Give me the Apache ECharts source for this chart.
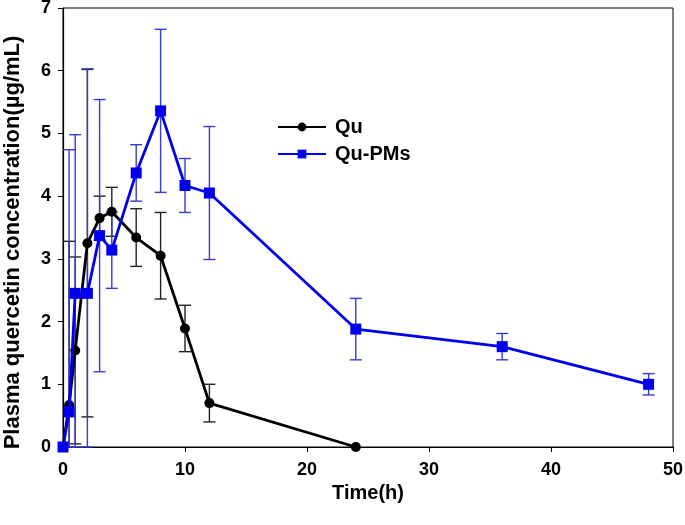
<!DOCTYPE html>
<html>
<head>
<meta charset="utf-8">
<script src="https://cdn.jsdelivr.net/npm/echarts@6/dist/echarts.min.js"></script>
<style>html,body{margin:0;padding:0;background:#fff}#c{width:685px;height:525px}</style>
</head>
<body>
<div id="c"></div>
<script>
var quTime = [0, 0.5, 1, 2, 3, 4, 6, 8, 10, 12, 24];
var quMean = [0, 0.67, 1.54, 3.25, 3.65, 3.75, 3.34, 3.05, 1.89, 0.70, 0];
var quSd   = [0, 2.61, 1.49, 2.77, 0.35, 0.39, 0.46, 0.69, 0.37, 0.30, 0];

var pmTime = [0, 0.5, 1, 2, 3, 4, 6, 8, 10, 12, 24, 36, 48];
var pmMean = [0, 0.56, 2.45, 2.45, 3.37, 3.14, 4.37, 5.36, 4.17, 4.05, 1.88, 1.60, 1.00];
var pmSd   = [0, 4.18, 2.53, 3.58, 2.17, 0.61, 0.45, 1.30, 0.43, 1.06, 0.49, 0.21, 0.17];

var xTicks = [0, 10, 20, 30, 40, 50];
var yTicks = [0, 1, 2, 3, 4, 5, 6, 7];

function pts(t, m) { return t.map(function (v, i) { return [v, m[i]]; }); }
function errs(t, m, s) {
  return t.map(function (v, i) { return [v, Math.max(0, m[i] - s[i]), m[i] + s[i], s[i]]; })
          .filter(function (d) { return d[3] > 0; });
}
function errSeries(data, color) {
  return {
    type: 'custom', silent: true, z: 3,
    data: data,
    renderItem: function (params, api) {
      var x = api.value(0);
      var lo = api.coord([x, api.value(1)]);
      var hi = api.coord([x, api.value(2)]);
      var w = 6;
      var st = { stroke: color, lineWidth: 1.4 };
      return {
        type: 'group',
        children: [
          { type: 'line', shape: { x1: lo[0], y1: lo[1], x2: hi[0], y2: hi[1] }, style: st },
          { type: 'line', shape: { x1: hi[0] - w, y1: hi[1], x2: hi[0] + w, y2: hi[1] }, style: st },
          { type: 'line', shape: { x1: lo[0] - w, y1: lo[1], x2: lo[0] + w, y2: lo[1] }, style: st }
        ]
      };
    }
  };
}

var chart = echarts.init(document.getElementById('c'));
var font = '"Liberation Sans", Arial, sans-serif';
chart.setOption({
  animation: false,
  backgroundColor: '#fff',
  grid: { left: 63, right: 12, top: 8, bottom: 78, show: true, borderColor: '#000', borderWidth: 1,
          containLabel: false, outerBoundsMode: 'none' },
  legend: {
    data: ['Qu', 'Qu-PMs'],
    orient: 'vertical',
    left: 277, top: 117, padding: 0,
    itemWidth: 48, itemHeight: 11, itemGap: 7,
    textStyle: { fontFamily: font, fontWeight: 'bold', fontSize: 20, color: '#000', padding: [0, 0, 0, 4] }
  },
  xAxis: {
    type: 'value', min: 0, max: 50, interval: 10,
    name: 'Time(h)', nameLocation: 'middle', nameGap: 36,
    nameTextStyle: { fontFamily: font, fontWeight: 'bold', fontSize: 20, color: '#000' },
    axisLine: { lineStyle: { color: '#000', width: 1.2 } },
    axisTick: { show: true, length: 5, lineStyle: { color: '#000' } },
    axisLabel: { fontFamily: font, fontWeight: 'bold', fontSize: 18, color: '#000', margin: 14,
      formatter: function (v) { return xTicks.indexOf(v) >= 0 ? String(v) : ''; } },
    splitLine: { show: false }
  },
  yAxis: {
    type: 'value', min: 0, max: 7, interval: 1,
    name: 'Plasma quercetin concentration(\u00b5g/mL)', nameLocation: 'middle', nameGap: 39,
    nameTextStyle: { fontFamily: font, fontWeight: 'bold', fontSize: 22, color: '#000', padding: [0, 30, 0, 0] },
    axisLine: { lineStyle: { color: '#000', width: 1.2 } },
    axisTick: { show: true, length: 5, lineStyle: { color: '#000' } },
    axisLabel: { fontFamily: font, fontWeight: 'bold', fontSize: 18, color: '#000', margin: 12,
      formatter: function (v) { return yTicks.indexOf(v) >= 0 ? String(v) : ''; } },
    splitLine: { show: false }
  },
  series: [
    errSeries(errs(quTime, quMean, quSd), '#222'),
    {
      name: 'Qu', type: 'line', z: 4, data: pts(quTime, quMean),
      symbol: 'circle', symbolSize: 10,
      lineStyle: { color: '#000', width: 2.8 },
      itemStyle: { color: '#000' }
    },
    errSeries(errs(pmTime, pmMean, pmSd), '#3a3ad0'),
    {
      name: 'Qu-PMs', type: 'line', z: 5, data: pts(pmTime, pmMean),
      symbol: 'rect', symbolSize: 11,
      lineStyle: { color: '#0000ee', width: 2.8 },
      itemStyle: { color: '#0000ee' }
    }
  ]
});
</script>
</body>
</html>
